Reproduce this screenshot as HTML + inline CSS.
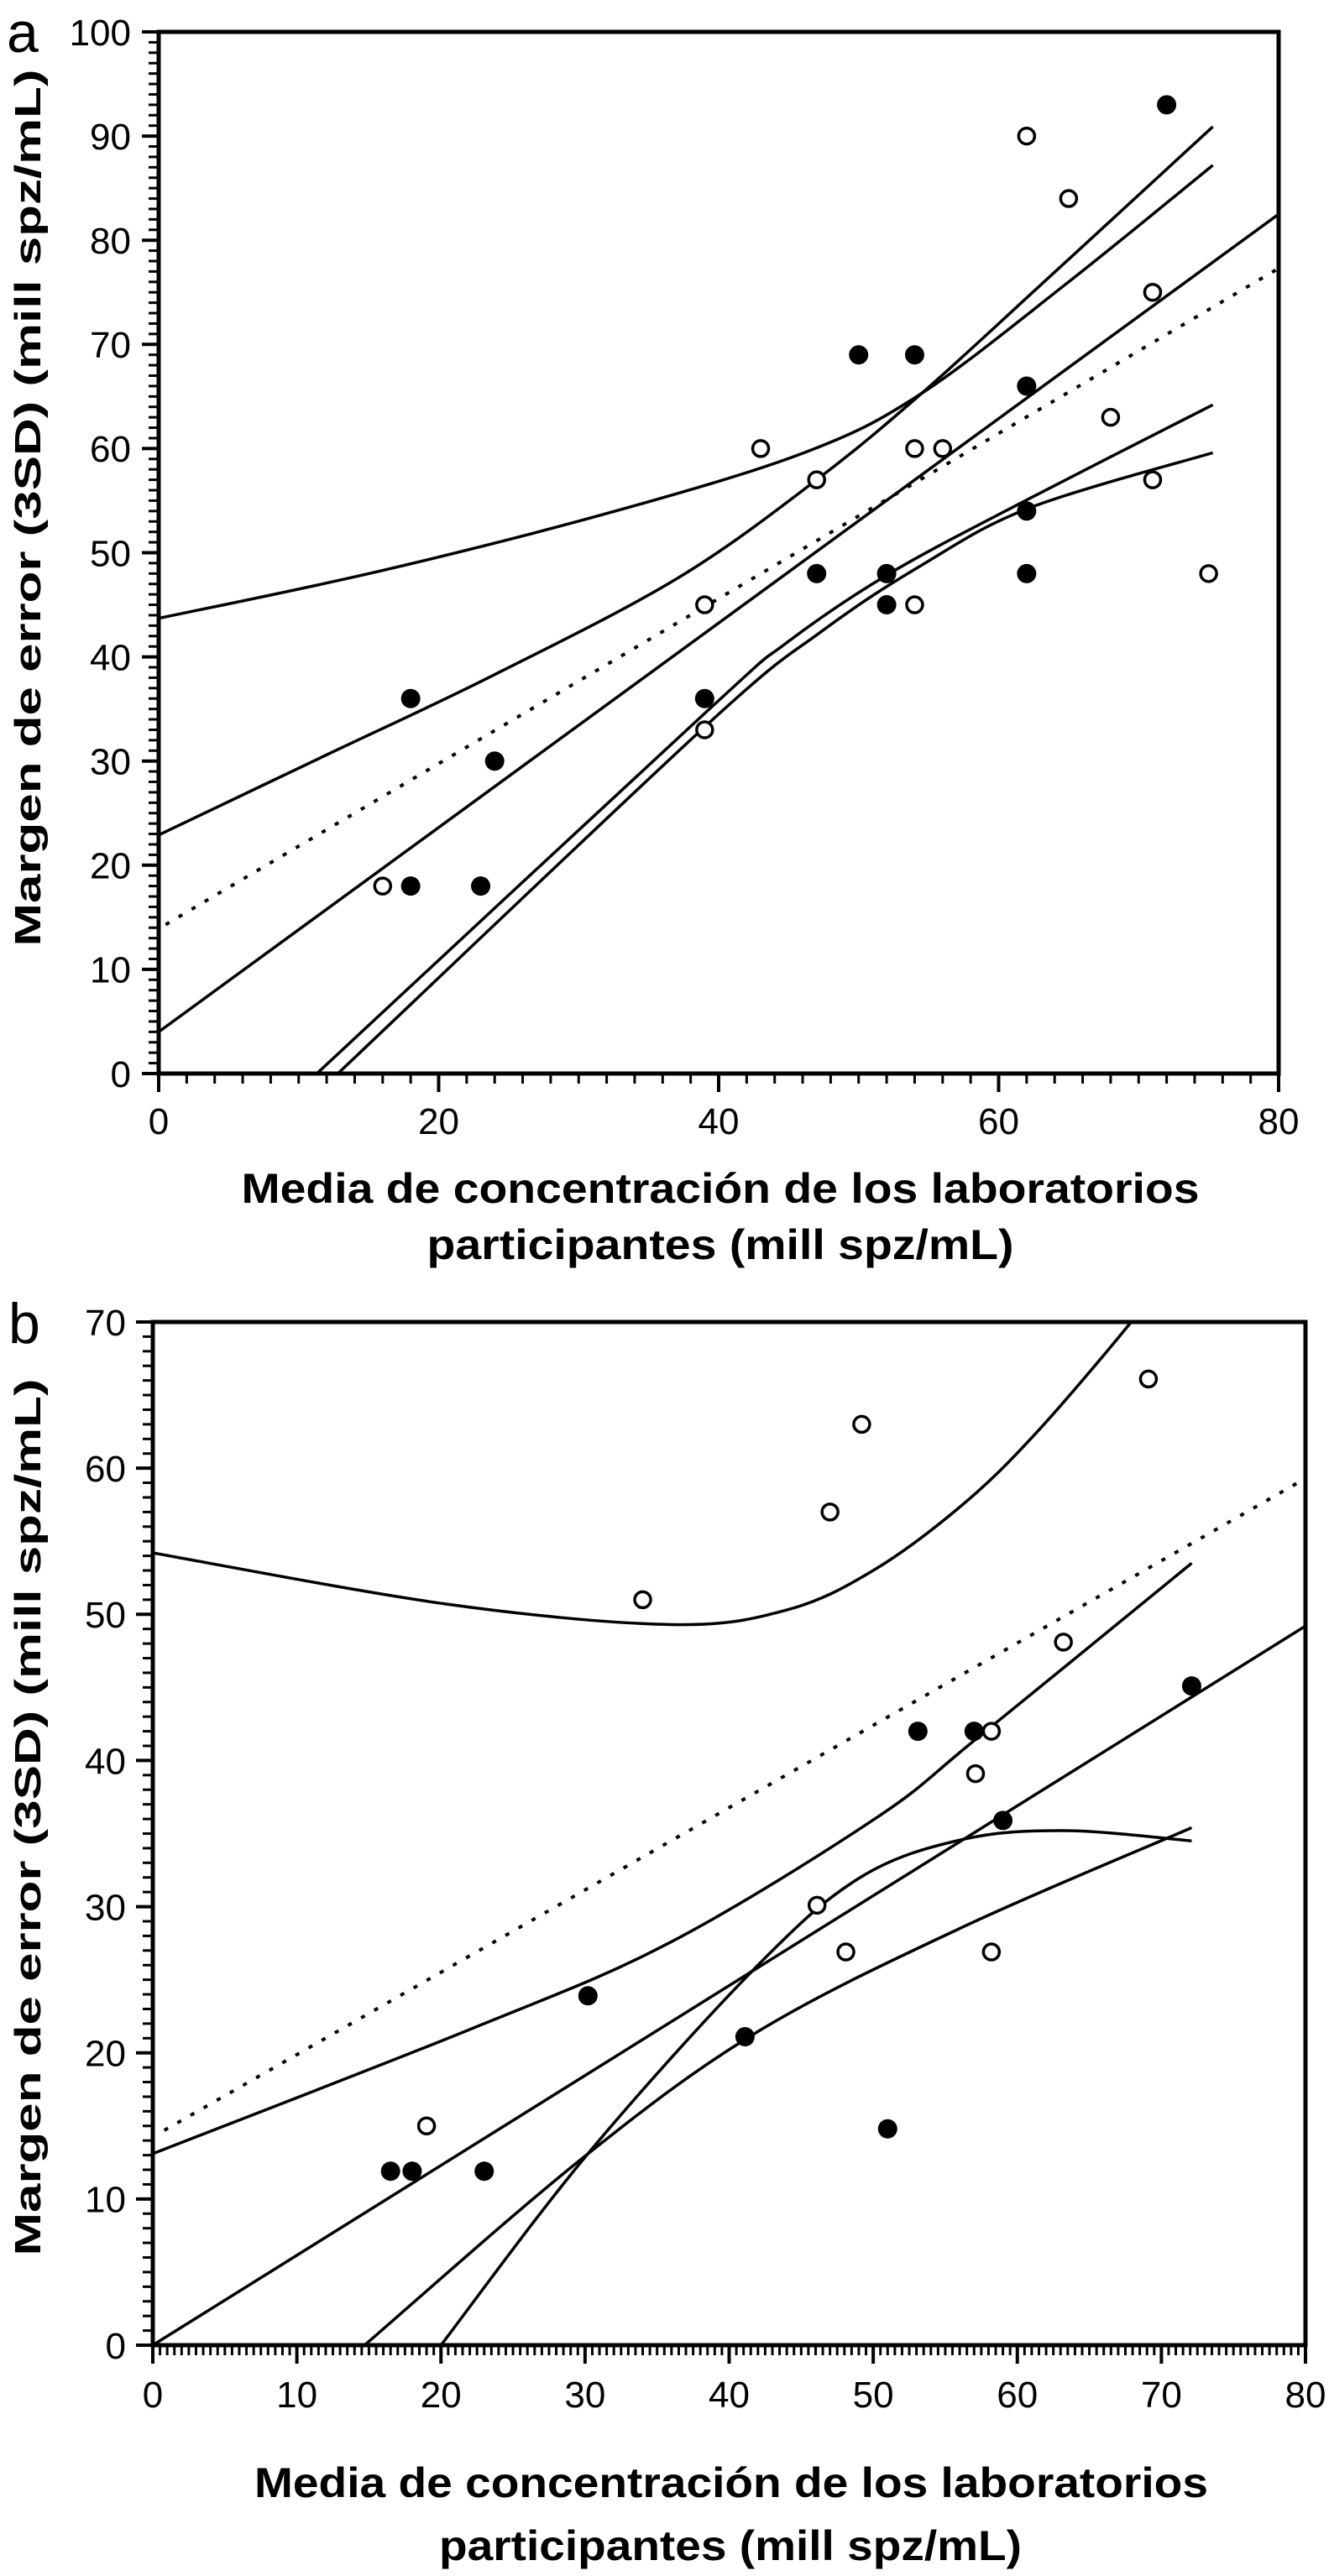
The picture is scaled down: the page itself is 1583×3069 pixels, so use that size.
<!DOCTYPE html>
<html><head><meta charset="utf-8"><style>
html,body{margin:0;padding:0;background:#fff}
svg{display:block}
text{font-family:"Liberation Sans",Arial,sans-serif;fill:#000}
</style></head><body>
<svg id="chart" width="1583" height="3069" viewBox="0 0 1583 3069" xmlns="http://www.w3.org/2000/svg">
<defs>
<clipPath id="clipA"><rect x="189" y="38" width="1334" height="1241"/></clipPath>
<clipPath id="clipB"><rect x="182" y="1575" width="1373" height="1219"/></clipPath>
</defs>
<text x="8" y="62" font-size="68">a</text>
<text x="10" y="1600" font-size="68">b</text>
<text transform="translate(48,605) rotate(-90)" text-anchor="middle" font-size="44" font-weight="bold" textLength="1045" lengthAdjust="spacingAndGlyphs">Margen de error (3SD) (mill spz/mL)</text>
<text transform="translate(48,2165) rotate(-90)" text-anchor="middle" font-size="44" font-weight="bold" textLength="1045" lengthAdjust="spacingAndGlyphs">Margen de error (3SD) (mill spz/mL)</text>
<text x="858" y="1433" text-anchor="middle" font-size="50" font-weight="bold" textLength="1141" lengthAdjust="spacingAndGlyphs">Media de concentración de los laboratorios</text>
<text x="858" y="1500" text-anchor="middle" font-size="50" font-weight="bold" textLength="699" lengthAdjust="spacingAndGlyphs">participantes (mill spz/mL)</text>
<text x="871" y="2975" text-anchor="middle" font-size="50" font-weight="bold" textLength="1136" lengthAdjust="spacingAndGlyphs">Media de concentración de los laboratorios</text>
<text x="870" y="3050" text-anchor="middle" font-size="50" font-weight="bold" textLength="694" lengthAdjust="spacingAndGlyphs">participantes (mill spz/mL)</text>
</svg>
<script>
// ---------- Panel A data ----------
const aOpenX = [16,39,39,43,47,54,56,54,62,65,68,71,71,75];
const aOpenY = [18,33,45,60,57,60,60,45,90,84,63,75,57,48];
const aFillX = [18,18,23,24,39,47,50,54,52,52,62,62,62,72];
const aFillY = [36,18,18,30,36,48,69,69,48,45,66,54,48,93];
const aRegX = [0,80];
const aRegY = [4.0,82.5];
const aDotX = [0.5,80];
const aDotY = [14.3,77.3];
const aUpper1X = [0,16,32.9,46.3,54.5,65,75.3];
const aUpper1Y = [43.7,48.3,54.1,59.7,65.3,76,87.2];
const aUpper2X = [0,12,23.7,37,47,54.5,63,75.3];
const aUpper2Y = [22.9,30.6,38.1,47.5,57,65.3,75.7,90.9];
const aLower1X = [11.3,39.1,44.8,52.2,62.2,75.3];
const aLower1Y = [0,34.7,41.3,48,55.2,64.2];
const aLower2X = [12.8,39.1,47.3,54.5,62.2,75.3];
const aLower2Y = [0,33.4,42.4,48.8,54.3,59.6];
const aXTicks = [0,20,40,60,80];
const aYTicks = [0,10,20,30,40,50,60,70,80,90,100];
// ---------- Panel B data ----------
const bOpenX = [19,34,47,49.2,46.1,48.1,57.1,58.2,58.2,63.2,69.1];
const bOpenY = [15,51,57,63,30.1,26.9,39.1,42,26.9,48.1,66.1];
const bFillX = [16.5,18,23,30.2,41.1,51,53.1,57,59,72.1];
const bFillY = [11.9,11.9,11.9,23.9,21.1,14.8,42,42,35.9,45.1];
const bRegX = [0,80];
const bRegY = [0,49.2];
const bDotX = [0.8,80];
const bDotY = [14.7,59.3];
const bUpperX = [0,20.4,36,44,50,56.2,61.3,67.9,70];
const bUpperY = [54.2,50.7,49.3,50.3,53,57.5,62.4,70,73];
const bBand2X = [0,22,35.8,50.1,57.3,72.1];
const bBand2Y = [13.1,21.6,27.5,36,41.6,53.5];
const bLowerX = [14.7,29.7,41.9,56.2,72.1];
const bLowerY = [0,12.7,21.4,28.6,35.4];
const bQuadX = [20,30.2,41.9,49.1,56.2,63.4,72.1];
const bQuadY = [0,13.1,25.9,32,34.6,35.2,34.5];
const bXTicks = [0,10,20,30,40,50,60,70,80];
const bYTicks = [0,10,20,30,40,50,60,70];

const NS = 'http://www.w3.org/2000/svg';
const svg = document.getElementById('chart');
function mk(tag, attrs, parent){
  const e = document.createElementNS(NS, tag);
  for (const k in attrs) e.setAttribute(k, attrs[k]);
  (parent||svg).appendChild(e);
  return e;
}
function spline(xs, ys, sx, sy){
  const p = xs.map((x,i)=>[sx(x), sy(ys[i])]);
  if (p.length === 2) return `M${p[0][0]},${p[0][1]}L${p[1][0]},${p[1][1]}`;
  let d = `M${p[0][0]},${p[0][1]}`;
  for (let i=0;i<p.length-1;i++){
    const p0 = p[i-1]||p[i], p1=p[i], p2=p[i+1], p3=p[i+2]||p2;
    const c1x = p1[0]+(p2[0]-p0[0])/6, c1y = p1[1]+(p2[1]-p0[1])/6;
    const c2x = p2[0]-(p3[0]-p1[0])/6, c2y = p2[1]-(p3[1]-p1[1])/6;
    d += `C${c1x},${c1y} ${c2x},${c2y} ${p2[0]},${p2[1]}`;
  }
  return d;
}
function panel(cfg){
  const {x0,x1,y0,y1,xmax,ymax,clip,id,fs} = cfg;
  const sx = v => x0 + (x1-x0)*v/xmax;
  const sy = v => y0 - (y0-y1)*v/ymax;
  const g = mk('g', {});
  
  
  for (let v=0; v<=xmax+1e-6; v+=cfg.xMinor){
    const t = mk('line',{x1:sx(v),x2:sx(v),y1:y0,y2:y0+12,stroke:'#000','stroke-width':3},g);
    
    
  }
  for (let v=0; v<=ymax+1e-6; v+=cfg.yMinor){
    const t = mk('line',{x1:x0-12,x2:x0,y1:sy(v),y2:sy(v),stroke:'#000','stroke-width':3},g);
    
    
  }
  cfg.xTicks.forEach(v=>{
    const t = mk('line',{x1:sx(v),x2:sx(v),y1:y0,y2:y0+22,stroke:'#000','stroke-width':4},g);
    
    
    const l = mk('text',{x:sx(v),y:cfg.xLabelY,'text-anchor':'middle','font-size':fs},g);
    l.textContent = v;
    
    
  });
  cfg.yTicks.forEach(v=>{
    const t = mk('line',{x1:x0-20,x2:x0,y1:sy(v),y2:sy(v),stroke:'#000','stroke-width':4},g);
    
    
    const l = mk('text',{x:cfg.yLabelX,y:sy(v)+fs*0.36,'text-anchor':'end','font-size':fs},g);
    l.textContent = v;
    
    
  });
  const frame = mk('rect',{x:x0,y:y1,width:x1-x0,height:y0-y1,fill:'none',stroke:'#000','stroke-width':5},g);
  
  
  const cg = mk('g',{'clip-path':`url(#${clip})`},g);
  cfg.curves.forEach(c=>{
    const attrs = {d:spline(c.x,c.y,sx,sy),fill:'none',stroke:'#000','stroke-width':c.dot?4:3.5};
    if (c.dot){ attrs['stroke-dasharray']='5 13'; }
    const p = mk('path',attrs,cg);
    
    
  });
  cfg.openX.forEach((x,i)=>{
    const c = mk('circle',{cx:sx(x),cy:sy(cfg.openY[i]),r:9.5,fill:'#fff',stroke:'#000','stroke-width':3.5},g);
    
    
  });
  cfg.fillX.forEach((x,i)=>{
    const c = mk('circle',{cx:sx(x),cy:sy(cfg.fillY[i]),r:11.5,fill:'#000'},g);
    
    
  });
}
panel({id:'a',x0:189,x1:1523,y0:1279,y1:38,xmax:80,ymax:100,clip:'clipA',fs:44,
  xMinor:2,yMinor:1,xTicks:aXTicks,yTicks:aYTicks,xLabelY:1351,yLabelX:156,
  openX:aOpenX,openY:aOpenY,fillX:aFillX,fillY:aFillY,
  curves:[{x:aRegX,y:aRegY,name:'regression-line'},{x:aDotX,y:aDotY,dot:1,name:'identity-dotted-line'},
    {x:aUpper1X,y:aUpper1Y,name:'upper-band-1'},{x:aUpper2X,y:aUpper2Y,name:'upper-band-2'},
    {x:aLower1X,y:aLower1Y,name:'lower-band-1'},{x:aLower2X,y:aLower2Y,name:'lower-band-2'}]});
panel({id:'b',x0:182,x1:1555,y0:2794,y1:1575,xmax:80,ymax:70,clip:'clipB',fs:44,
  xMinor:0.5,yMinor:1,xTicks:bXTicks,yTicks:bYTicks,xLabelY:2868,yLabelX:150,
  openX:bOpenX,openY:bOpenY,fillX:bFillX,fillY:bFillY,
  curves:[{x:bRegX,y:bRegY,name:'regression-line'},{x:bDotX,y:bDotY,dot:1,name:'identity-dotted-line'},
    {x:bUpperX,y:bUpperY,name:'upper-band'},{x:bBand2X,y:bBand2Y,name:'band-2'},
    {x:bLowerX,y:bLowerY,name:'lower-band'},{x:bQuadX,y:bQuadY,name:'quadratic-fit'}]});
</script>
</body></html>
